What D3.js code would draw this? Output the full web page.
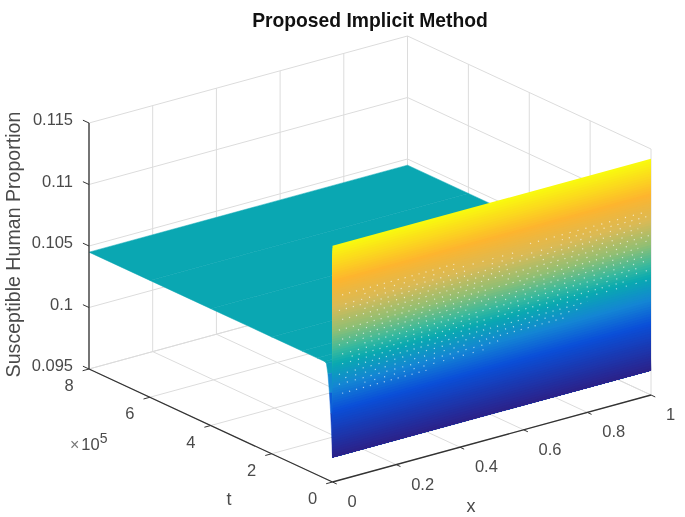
<!DOCTYPE html>
<html>
<head>
<meta charset="utf-8">
<script src="https://cdn.jsdelivr.net/npm/d3@7"></script>
<style>
  html, body { margin: 0; padding: 0; background: #fff; }
  svg { display: block; font-family: "Liberation Sans", Arial, sans-serif; filter: blur(0.5px); }
</style>
</head>
<body>
<svg id="chart" width="685" height="517"></svg>
<script>
// tick values
var xTicks = [0, 0.2, 0.4, 0.6, 0.8, 1];
var tTicks = [0, 2, 4, 6, 8];           // times 10^5
var zTicks = [0.095, 0.1, 0.105, 0.11, 0.115];
var zLabels = ["0.095", "0.1", "0.105", "0.11", "0.115"];

// surface profile along t, flat part and the recovery next to t = 0
var profileT = [8, 6, 4, 2, 1, 0.5, 0.26, 0.2, 0.15, 0.1, 0.06, 0.025, 0.01, 0];
var profileZ = [0.1045, 0.1045, 0.1045, 0.1045, 0.1045, 0.1045, 0.1045, 0.1044, 0.1036, 0.1021, 0.1005, 0.0986, 0.0975, 0.0970];

// the steep front wall at t = 0, from top to bottom
var wallZ = [0.1142, 0.1140, 0.1138, 0.1136, 0.1134, 0.1132, 0.1130, 0.1128, 0.1126, 0.1124,
  0.1122, 0.1120, 0.1118, 0.1116, 0.1114, 0.1112, 0.1110, 0.1108, 0.1106, 0.1104,
  0.1102, 0.1100, 0.1098, 0.1096, 0.1094, 0.1092, 0.1090, 0.1088, 0.1086, 0.1084,
  0.1082, 0.1080, 0.1078, 0.1076, 0.1074, 0.1072, 0.1070, 0.1068, 0.1066, 0.1064,
  0.1062, 0.1060, 0.1058, 0.1056, 0.1054, 0.1052, 0.1050, 0.1048, 0.1046, 0.1044,
  0.1042, 0.1040, 0.1038, 0.1036, 0.1034, 0.1032, 0.1030, 0.1028, 0.1026, 0.1024,
  0.1022, 0.1020, 0.1018, 0.1016, 0.1014, 0.1012, 0.1010, 0.1008, 0.1006, 0.1004,
  0.1002, 0.1000, 0.0998, 0.0996, 0.0994, 0.0992, 0.0990, 0.0988, 0.0986, 0.0984,
  0.0982, 0.0980, 0.0978, 0.0976, 0.0974, 0.0972, 0.0970];

// pale specks where the wall facets leave gaps
var speckZ =    [0.1100, 0.1100, 0.1096, 0.1096, 0.1092, 0.1092, 0.1088, 0.1084, 0.1084, 0.1080, 0.1076, 0.1076, 0.1072, 0.1068, 0.1068, 0.1064, 0.1060, 0.1060, 0.1056, 0.1052, 0.1052, 0.1048, 0.1044, 0.1044, 0.1040, 0.1036, 0.1032, 0.1032, 0.1028, 0.1024, 0.1020];
var speckFrom = [0.03, 0.62, 0.10, 0.72, 0.04, 0.50, 0.02, 0.10, 0.66, 0.03, 0.12, 0.55, 0.02, 0.08, 0.60, 0.03, 0.02, 0.48, 0.10, 0.03, 0.52, 0.06, 0.03, 0.55, 0.08, 0.02, 0.04, 0.46, 0.02, 0.10, 0.03];
var speckTo =   [0.40, 0.98, 0.58, 1.00, 0.42, 0.98, 0.96, 0.55, 1.00, 1.00, 0.48, 1.00, 0.96, 0.50, 1.00, 0.98, 0.42, 1.00, 0.96, 0.46, 1.00, 0.92, 0.50, 1.00, 0.80, 0.78, 0.42, 0.74, 0.52, 0.50, 0.30];

// parula colours and the z levels they sit on
var parulaStops = ["#2c2188", "#0a4fd8", "#1485d4", "#09a9b0", "#38b99e", "#92bf73", "#d9ba56", "#fdb52e", "#f9fb0e"];
var parulaZ = [0.0970, 0.1008, 0.1027, 0.1046, 0.1056, 0.1073, 0.1092, 0.1113, 0.1142];

var svg = d3.select("#chart");

// oblique projection of the 3D box, each axis adds its own pixel offset
var xToPx = d3.scaleLinear().domain([0, 1]).range([332.5, 651]);
var tToPx = d3.scaleLinear().domain([0, 8]).range([0, -243.5]);
var xToPy = d3.scaleLinear().domain([0, 1]).range([482, 395]);
var tToPy = d3.scaleLinear().domain([0, 8]).range([0, -113]);
var zToPy = d3.scaleLinear().domain([0.095, 0.115]).range([0, -246]);

function project(x, t, z) {
  return [xToPx(x) + tToPx(t), xToPy(x) + tToPy(t) + zToPy(z)];
}

var line3d = d3.line();

var color = d3.scaleLinear().domain(parulaZ).range(parulaStops);

function segment(a, b) { return line3d([project.apply(null, a), project.apply(null, b)]); }

// grid lines on the two back walls and the floor
var gridLines = [];
xTicks.forEach(function(x) {
  gridLines.push([[x, 8, 0.095], [x, 8, 0.115]]);
  gridLines.push([[x, 0, 0.095], [x, 8, 0.095]]);
});
tTicks.forEach(function(t) {
  gridLines.push([[1, t, 0.095], [1, t, 0.115]]);
  gridLines.push([[0, t, 0.095], [1, t, 0.095]]);
});
zTicks.forEach(function(z) {
  gridLines.push([[0, 8, z], [1, 8, z]]);
  gridLines.push([[1, 8, z], [1, 0, z]]);
});

svg.append("g").attr("class", "grid")
  .selectAll("path")
  .data(gridLines)
  .enter().append("path")
  .attr("d", function(d) { return segment(d[0], d[1]); })
  .attr("fill", "none")
  .attr("stroke", "#dcdcdc")
  .attr("stroke-width", 1);

// surface, back to front
function quad(t0, z0, t1, z1) {
  return line3d([project(0, t0, z0), project(1, t0, z0), project(1, t1, z1), project(0, t1, z1)]) + "Z";
}

var profileRows = d3.range(profileT.length - 1).map(function(i) {
  return {t0: profileT[i], z0: profileZ[i], t1: profileT[i + 1], z1: profileZ[i + 1]};
});

svg.append("g").attr("class", "profile")
  .selectAll("path")
  .data(profileRows)
  .enter().append("path")
  .attr("d", function(d) { return quad(d.t0, d.z0, d.t1, d.z1); })
  .attr("fill", function(d) { return color((d.z0 + d.z1) / 2); })
  .attr("stroke", function(d) { return color((d.z0 + d.z1) / 2); })
  .attr("stroke-width", 0.5);

var wallRows = d3.range(wallZ.length - 1).map(function(i) {
  return {z0: wallZ[i], z1: wallZ[i + 1]};
});

// no stroke here, each row is drawn down to the wall bottom so no seams show
svg.append("g").attr("class", "wall")
  .selectAll("path")
  .data(wallRows)
  .enter().append("path")
  .attr("d", function(d) { return quad(0, d.z0, 0, wallZ[wallZ.length - 1]); })
  .attr("fill", function(d) { return color((d.z0 + d.z1) / 2); });

svg.append("g").attr("class", "specks")
  .selectAll("path")
  .data(speckZ)
  .enter().append("path")
  .attr("d", function(z, i) { return segment([speckFrom[i], 0, z], [speckTo[i], 0, z]); })
  .attr("fill", "none")
  .attr("stroke", function(z) { return d3.interpolateRgb(color(z), "#ffffff")(0.62); })
  .attr("stroke-width", 1.2)
  .attr("stroke-dasharray", function(z, i) { return i % 3 == 0 ? "1.2 6" : (i % 3 == 1 ? "1.2 7" : "1.2 9"); });

// axis lines
var axisLines = [
  [[0, 8, 0.095], [0, 8, 0.115]],
  [[0, 0, 0.095], [0, 8, 0.095]],
  [[0, 0, 0.095], [1, 0, 0.095]]
];
var axisColor = "#333";

svg.append("g").attr("class", "axes")
  .selectAll("path")
  .data(axisLines)
  .enter().append("path")
  .attr("d", function(d) { return segment(d[0], d[1]); })
  .attr("fill", "none")
  .attr("stroke", axisColor)
  .attr("stroke-width", 1.3);

// tick marks, short stubs along the other floor axis
var tickMarks = [];
xTicks.forEach(function(x) { tickMarks.push([[x, 0, 0.095], [x, -0.14, 0.095]]); });
tTicks.forEach(function(t) { tickMarks.push([[0, t, 0.095], [-0.02, t, 0.095]]); });
zTicks.forEach(function(z) { tickMarks.push([[0, 8, z], [0, 8.2, z]]); });

svg.append("g").attr("class", "ticks")
  .selectAll("path")
  .data(tickMarks)
  .enter().append("path")
  .attr("d", function(d) { return segment(d[0], d[1]); })
  .attr("fill", "none")
  .attr("stroke", axisColor)
  .attr("stroke-width", 1);

// tick labels
var labelColor = "#4a4a4a";
var tickFont = 16.5;

svg.append("g").selectAll("text")
  .data(zTicks)
  .enter().append("text")
  .attr("x", 73)
  .attr("y", function(z) { return project(0, 8, z)[1] + 2; })
  .attr("text-anchor", "end")
  .attr("font-size", tickFont)
  .attr("fill", labelColor)
  .text(function(z, i) { return zLabels[i]; });

svg.append("g").selectAll("text")
  .data(tTicks)
  .enter().append("text")
  .attr("x", function(t) { return project(0, t, 0.095)[0] - 20; })
  .attr("y", function(t) { return project(0, t, 0.095)[1] + 22; })
  .attr("text-anchor", "middle")
  .attr("font-size", tickFont)
  .attr("fill", labelColor)
  .text(function(t) { return t; });

svg.append("g").selectAll("text")
  .data(xTicks)
  .enter().append("text")
  .attr("x", function(x) { return project(x, 0, 0.095)[0] + 15; })
  .attr("y", function(x) { return project(x, 0, 0.095)[1] + 25; })
  .attr("font-size", tickFont)
  .attr("fill", labelColor)
  .text(function(x) { return x; });

// exponent next to the t axis
var exponent = svg.append("text")
  .attr("x", 70)
  .attr("y", 450)
  .attr("font-size", tickFont)
  .attr("fill", labelColor);
exponent.append("tspan").attr("font-size", 16).attr("fill", "#777").text("\u00d7");
exponent.append("tspan").attr("dx", 2).text("10");
exponent.append("tspan").attr("dy", -7).attr("font-size", 14).text("5");

// axis titles
svg.append("text")
  .attr("x", 229)
  .attr("y", 505)
  .attr("text-anchor", "middle")
  .attr("font-size", 18)
  .attr("fill", labelColor)
  .text("t");

svg.append("text")
  .attr("x", 471)
  .attr("y", 512)
  .attr("text-anchor", "middle")
  .attr("font-size", 18)
  .attr("fill", labelColor)
  .text("x");

svg.append("text")
  .attr("transform", "translate(19.5,244.5) rotate(-90)")
  .attr("text-anchor", "middle")
  .attr("font-size", 19.6)
  .attr("fill", labelColor)
  .text("Susceptible Human Proportion");

svg.append("text")
  .attr("x", 370)
  .attr("y", 27)
  .attr("text-anchor", "middle")
  .attr("font-size", 19.3)
  .attr("font-weight", "bold")
  .attr("fill", "#111")
  .text("Proposed Implicit Method");
</script>
</body>
</html>
